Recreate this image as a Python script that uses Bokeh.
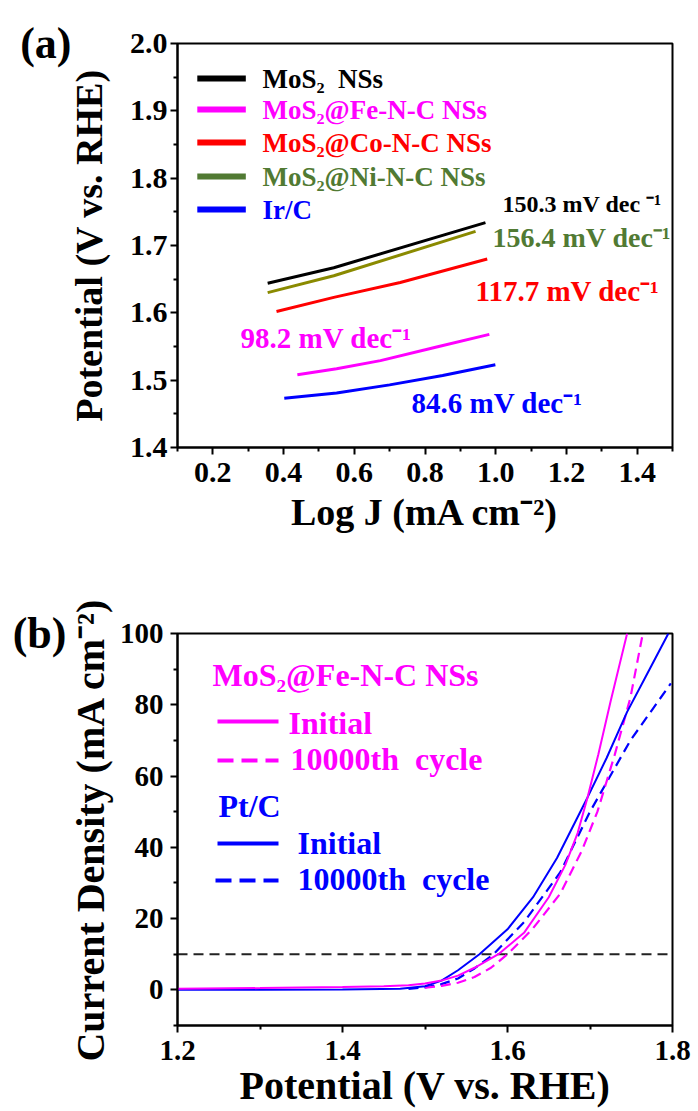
from bokeh.plotting import figure
from bokeh.layouts import column
from bokeh.models import Label, FixedTicker, PrintfTickFormatter, Range1d, LinearAxis
from bokeh.embed import file_html
from bokeh.resources import INLINE

FONT = "Liberation Serif"
NB = "\u00a0"

# ---------------- Panel (a): Tafel plots ----------------
logj_mos2 = [0.355, 0.542, 0.971]
pot_mos2 = [1.644, 1.667, 1.734]
logj_fe = [0.439, 0.550, 0.674, 0.830, 0.982]
pot_fe = [1.508, 1.517, 1.529, 1.549, 1.568]
logj_co = [0.380, 0.542, 0.730, 0.976]
pot_co = [1.602, 1.623, 1.645, 1.680]
logj_ni = [0.355, 0.542, 0.943]
pot_ni = [1.630, 1.655, 1.721]
logj_ir = [0.402, 0.550, 0.700, 0.850, 0.999]
pot_ir = [1.473, 1.481, 1.493, 1.507, 1.523]

tafel_names = ["MoS\u2082" + NB + " NSs", "MoS\u2082@Fe-N-C NSs", "MoS\u2082@Co-N-C NSs",
               "MoS\u2082@Ni-N-C NSs", "Ir/C"]
tafel_slopes = ["150.3 mV dec \u207b\u00b9", "98.2 mV dec\u207b\u00b9", "117.7 mV dec\u207b\u00b9",
                "156.4 mV dec\u207b\u00b9", "84.6 mV dec\u207b\u00b9"]
a_xticks = [0.2, 0.4, 0.6, 0.8, 1.0, 1.2, 1.4]
a_xminor = [0.1, 0.3, 0.5, 0.7, 0.9, 1.1, 1.3, 1.5]
a_yticks = [1.4, 1.5, 1.6, 1.7, 1.8, 1.9, 2.0]
a_yminor = [1.45, 1.55, 1.65, 1.75, 1.85, 1.95]

# ---------------- Panel (b): polarization curves ----------------
v_fe_init = [1.20, 1.30, 1.40, 1.45, 1.48, 1.50, 1.52, 1.54, 1.56, 1.589, 1.62, 1.65, 1.67, 1.685, 1.697, 1.71, 1.725, 1.745]
j_fe_init = [0.3, 0.5, 0.8, 1.0, 1.3, 1.8, 2.6, 4.0, 6.2, 10.0, 16.0, 26.0, 35.0, 44.0, 54.0, 66.0, 81.0, 100.0]
v_fe_cyc = [1.50, 1.52, 1.54, 1.56, 1.58, 1.600, 1.63, 1.664, 1.69, 1.709, 1.73, 1.749, 1.764]
j_fe_cyc = [0.6, 1.1, 2.0, 3.6, 6.2, 10.0, 17.0, 27.0, 39.0, 50.0, 66.0, 82.0, 100.0]
v_pt_init = [1.20, 1.30, 1.40, 1.47, 1.50, 1.52, 1.54, 1.566, 1.60, 1.631, 1.66, 1.697, 1.72, 1.745, 1.77, 1.795]
j_pt_init = [0.0, 0.05, 0.1, 0.3, 1.0, 2.6, 5.5, 10.0, 17.0, 26.0, 37.0, 54.0, 65.0, 78.0, 89.0, 100.0]
v_pt_cyc = [1.48, 1.50, 1.52, 1.54, 1.56, 1.583, 1.62, 1.664, 1.70, 1.749, 1.798]
j_pt_cyc = [0.3, 0.7, 1.6, 3.2, 6.0, 10.0, 19.0, 33.0, 50.0, 70.0, 86.0]
j_ref = 10.0
b_xticks = [1.2, 1.4, 1.6, 1.8]
b_xminor = [1.3, 1.5, 1.7]
b_yticks = [0, 20, 40, 60, 80, 100]
b_yminor = [-10, 10, 30, 50, 70, 90]

MAG = "#ff00ff"
BLU = "#0000ff"
RED = "#ff0000"
GRN = "#517a33"
OLV = "#8a8a00"


def style_axes(p, size, lstand, xls, yls, tsize):
    for a in (p.xaxis[0], p.yaxis[0]):
        a.axis_line_width = 2
        a.axis_line_color = "black"
        a.major_tick_line_width = 2
        a.minor_tick_line_width = 2
        a.major_tick_out = 7
        a.major_tick_in = 0
        a.minor_tick_out = 4
        a.minor_tick_in = 0
        a.major_label_text_font = FONT
        a.major_label_text_font_style = "bold"
        a.major_label_text_font_size = f"{size}px"
        a.major_label_text_color = "black"
        a.axis_label_text_font = FONT
        a.axis_label_text_font_style = "bold"
        a.axis_label_text_font_size = f"{tsize}px"
        a.axis_label_text_color = "black"
    p.xaxis[0].major_label_standoff = 8
    p.yaxis[0].major_label_standoff = lstand
    p.xaxis[0].axis_label_standoff = xls
    p.yaxis[0].axis_label_standoff = yls
    p.xgrid.visible = False
    p.ygrid.visible = False
    p.outline_line_color = "black"
    p.outline_line_width = 2


def panel_letter(p, text, standoff):
    p.extra_y_ranges = {"letter": Range1d(0, 1)}
    a = LinearAxis(y_range_name="letter", ticker=FixedTicker(ticks=[1]),
                   major_label_overrides={1: text})
    a.axis_line_color = None
    a.major_tick_line_color = None
    a.minor_tick_line_color = None
    a.major_tick_out = 0
    a.major_tick_in = 0
    a.major_label_standoff = standoff
    a.major_label_text_font = FONT
    a.major_label_text_font_style = "bold"
    a.major_label_text_font_size = "44px"
    a.major_label_text_color = "black"
    p.add_layout(a, "left")


def lab(p, sx, sy, text, size, color="black", align="left"):
    p.add_layout(Label(x=sx, y=sy, x_units="screen", y_units="screen", text=text,
                       text_font=FONT, text_font_style="bold", text_font_size=f"{size}px",
                       text_color=color, text_align=align, text_baseline="middle"))


# ---------- figure (a) ----------
AL, AR, AT, AB = 172, 26, 43, 113
AH = 560
p1 = figure(width=698, height=AH, output_backend="svg", toolbar_location=None,
            x_range=Range1d(0.1, 1.5), y_range=Range1d(1.4, 2.0),
            min_border_left=AL, min_border_right=AR, min_border_top=AT, min_border_bottom=AB,
            background_fill_color="white", border_fill_color="white")
p1.xaxis.ticker = FixedTicker(ticks=a_xticks, minor_ticks=a_xminor)
p1.yaxis.ticker = FixedTicker(ticks=a_yticks, minor_ticks=a_yminor)
p1.xaxis.formatter = PrintfTickFormatter(format="%.1f")
p1.yaxis.formatter = PrintfTickFormatter(format="%.1f")
p1.xaxis.axis_label = "Log J (mA cm\u207b\u00b2)"
p1.yaxis.axis_label = "Potential (V vs. RHE)"
style_axes(p1, 30, 3, 6, 17, 38)
panel_letter(p1, "(a)", -7)

FW1 = 698 - AL - AR
FH1 = AH - AT - AB


def ax(px):
    return 0.1 + (px - AL) / FW1 * 1.4


def ay(py):
    return 2.0 - (py - AT) / FH1 * 0.6


p1.line(logj_mos2, pot_mos2, line_color="black", line_width=3)
p1.line(logj_ni, pot_ni, line_color=OLV, line_width=3)
p1.line(logj_co, pot_co, line_color=RED, line_width=3)
p1.line(logj_fe, pot_fe, line_color=MAG, line_width=3)
p1.line(logj_ir, pot_ir, line_color=BLU, line_width=3)

leg_cols = ["black", MAG, RED, GRN, BLU]
leg_y = [78, 109, 142, 176, 209]
for name, c, yy in zip(tafel_names, leg_cols, leg_y):
    p1.line([ax(192), ax(241)], [ay(yy), ay(yy)], line_color=c, line_width=6)
    lab(p1, 257 - AL, (AH - AB) - yy, name, 27, c)

# slope annotations: (left px, center py, size, color)
slope_pos = [(497, 203, 24, "black"), (235, 337, 29, MAG), (470, 290, 29, RED),
             (487, 237, 28, GRN), (406, 402, 29, BLU)]
for txt, (px, py, sz, c) in zip(tafel_slopes, slope_pos):
    lab(p1, px - AL, (AH - AB) - py, txt, sz, c)

# ---------- figure (b) ----------
BL, BR, BT, BB = 177, 26, 73, 86
BH = 551
p2 = figure(width=698, height=BH, output_backend="svg", toolbar_location=None,
            x_range=Range1d(1.2, 1.8), y_range=Range1d(-10, 100),
            min_border_left=BL, min_border_right=BR, min_border_top=BT, min_border_bottom=BB,
            background_fill_color="white", border_fill_color="white")
p2.xaxis.ticker = FixedTicker(ticks=b_xticks, minor_ticks=b_xminor)
p2.yaxis.ticker = FixedTicker(ticks=b_yticks, minor_ticks=b_yminor)
p2.xaxis.formatter = PrintfTickFormatter(format="%.1f")
p2.yaxis.formatter = PrintfTickFormatter(format="%d")
p2.xaxis.axis_label = "Potential (V vs. RHE)"
p2.yaxis.axis_label = "Current Density (mA cm\u207b\u00b2)"
style_axes(p2, 29, 7, 0, 4, 40)
panel_letter(p2, "(b)", -2)

FW2 = 698 - BL - BR
FH2 = BH - BT - BB
PAGE_Y0 = AH


def bx(px):
    return 1.2 + (px - BL) / FW2 * 0.6


def by(py):
    return 100 - (py - PAGE_Y0 - BT) / FH2 * 110


p2.line([1.2, 1.8], [j_ref, j_ref], line_color="#222222", line_width=2, line_dash="10 6")
p2.line(v_pt_cyc, j_pt_cyc, line_color=BLU, line_width=2.2, line_dash="10 6")
p2.line(v_fe_cyc, j_fe_cyc, line_color=MAG, line_width=2.2, line_dash="10 6")
p2.line(v_pt_init, j_pt_init, line_color=BLU, line_width=2)
p2.line(v_fe_init, j_fe_init, line_color=MAG, line_width=2)

BBOT = PAGE_Y0 + BH - BB  # page y of frame bottom
cyc = "10000th" + NB + " cycle"
lab(p2, 212 - BL, BBOT - 674, "MoS\u2082@Fe-N-C NSs", 32, MAG)
p2.line([bx(217), bx(278)], [by(721), by(721)], line_color=MAG, line_width=4)
lab(p2, 288 - BL, BBOT - 722, "Initial", 32, MAG)
p2.line([bx(217), bx(278)], [by(760), by(760)], line_color=MAG, line_width=4, line_dash="16 8")
lab(p2, 290 - BL, BBOT - 758, cyc, 32, MAG)
lab(p2, 218 - BL, BBOT - 805, "Pt/C", 32, BLU)
p2.line([bx(217), bx(278)], [by(843), by(843)], line_color=BLU, line_width=4)
lab(p2, 297 - BL, BBOT - 842, "Initial", 32, BLU)
p2.line([bx(215), bx(278)], [by(880), by(880)], line_color=BLU, line_width=4, line_dash="16 8")
lab(p2, 297 - BL, BBOT - 878, cyc, 32, BLU)

layout = column(p1, p2, spacing=0)
open("out.html", "w").write(file_html(layout, INLINE))
